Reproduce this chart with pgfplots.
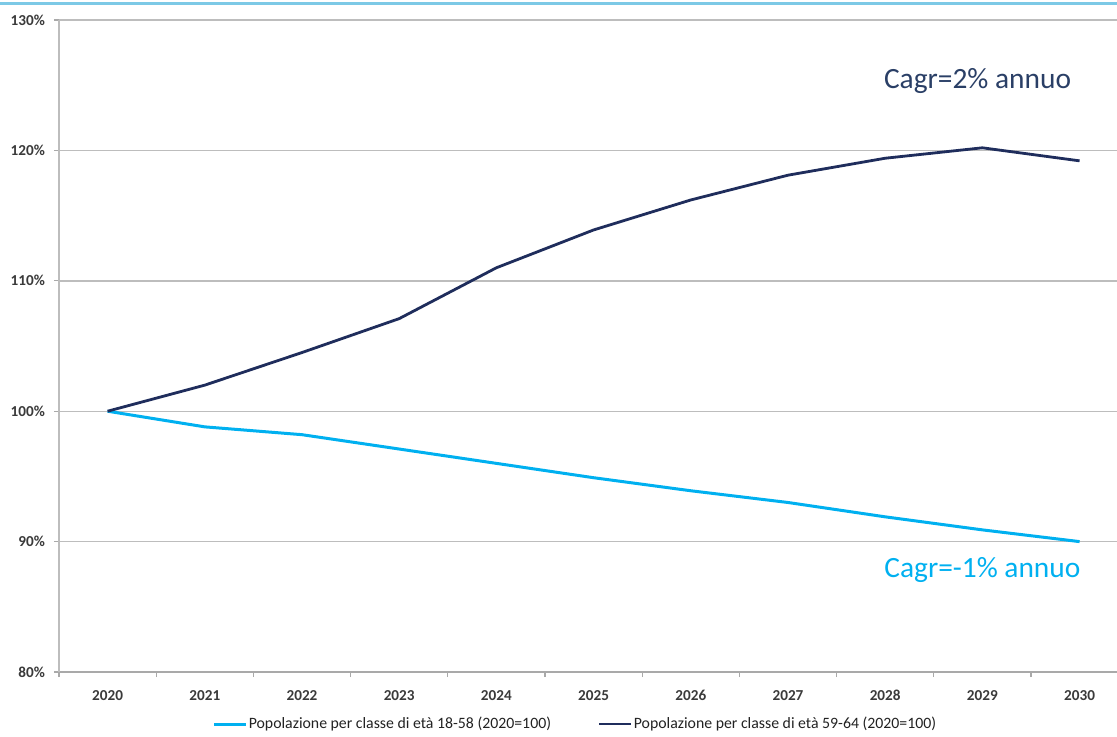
\documentclass[border=0pt]{standalone}
\usepackage{pgfplots}
\pgfplotsset{compat=1.18}
\usepackage{fontspec}
\setmainfont{Carlito}

\definecolor{navy}{HTML}{1F2D5C}
\definecolor{navytxt}{HTML}{2A3F66}
\definecolor{sky}{HTML}{00B0F0}
\definecolor{gridgray}{HTML}{BDBDBD}
\definecolor{axgray}{HTML}{A9A9A9}
\definecolor{topline}{HTML}{7CC9E6}
\definecolor{lbl}{HTML}{3A3A3A}
\definecolor{legtxt}{HTML}{222222}

\begin{document}
\begin{tikzpicture}
% page = 1117 x 736 px, 1 px = 0.5pt
\path[use as bounding box] (0pt,0pt) rectangle (558.5pt,368pt);
\fill[topline] (0pt,365.75pt) rectangle (558.5pt,367.25pt);

\begin{axis}[
    at={(29.5pt,32pt)}, anchor=south west,
    scale only axis,
    width=529pt, height=326pt,
    xmin=-0.5, xmax=10.385,
    ymin=80, ymax=130,
    ytick={80,90,...,130},
    yticklabel={\pgfmathprintnumber{\tick}\%},
    xtick={0,...,10},
    xticklabels={2020,2021,2022,2023,2024,2025,2026,2027,2028,2029,2030},
    minor xtick={-0.5,0.5,...,9.5},
    x tick style={draw=none},
    minor x tick style={draw=axgray, line width=0.6pt},
    minor tick length=2.5pt,
    y tick style={draw=axgray, line width=0.6pt},
    major tick length=2.5pt,
    tick align=outside,
    tick pos=left,
    axis x line*=bottom,
    axis y line*=left,
    x axis line style={draw=axgray, line width=0.7pt, -},
    y axis line style={draw=gridgray, line width=0.7pt, -},
    ymajorgrids,
    grid style={draw=gridgray, line width=0.7pt},
    tick label style={font=\fontsize{7.6}{9}\selectfont\bfseries, text=lbl},
    /pgf/number format/assume math mode=true,
    xticklabel style={yshift=-3pt},
    yticklabel style={xshift=-1pt},
    legend columns=2,
    legend style={
        at={(0.4877,-0.0798)}, anchor=center,
        draw=none, fill=none,
        font=\fontsize{7.9}{9}\selectfont, text=legtxt,
        nodes={inner sep=0.5pt},
        /tikz/every even column/.append style={column sep=23pt},
        /tikz/every odd column/.append style={column sep=0pt},
        inner sep=0pt,
    },
    legend image code/.code={\draw[#1] (0pt,0pt) -- (16pt,0pt);},
    clip=false,
]

\addplot[sky, line width=1.5pt] coordinates {
    (0,100.0) (1,98.8) (2,98.2) (3,97.1) (4,96.0) (5,94.9)
    (6,93.9) (7,93.0) (8,91.9) (9,90.9) (10,90.0)
};
\addlegendentry{Popolazione per classe di età 18-58 (2020=100)}

\addplot[navy, line width=1.4pt] coordinates {
    (0,100.0) (1,102.0) (2,104.5) (3,107.1) (4,111.0) (5,113.9)
    (6,116.2) (7,118.1) (8,119.4) (9,120.2) (10,119.2)
};
\addlegendentry{Popolazione per classe di età 59-64 (2020=100)}

\node[font=\fontsize{14.7}{17}\selectfont, text=navytxt] at (axis cs:8.95,125.3) {Cagr=2\% annuo};
\node[font=\fontsize{14.7}{17}\selectfont, text=sky] at (axis cs:9.0,87.85) {Cagr=-1\% annuo};
\end{axis}
\end{tikzpicture}
\end{document}
